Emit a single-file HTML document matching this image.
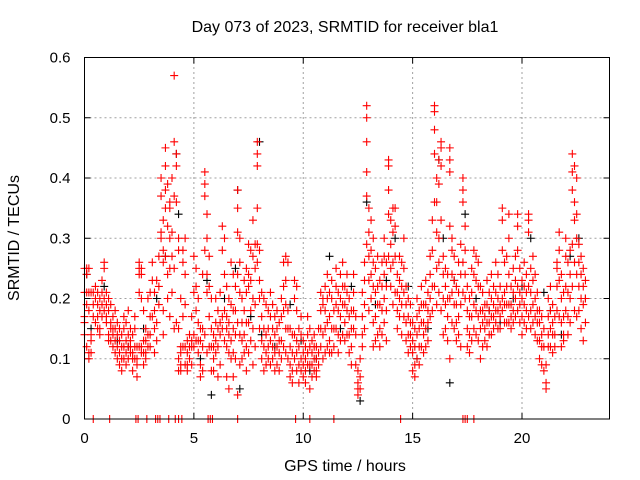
<!DOCTYPE html>
<html><head><meta charset="utf-8"><style>
html,body{margin:0;padding:0;background:#fff}
svg{display:block;font-family:"Liberation Sans",sans-serif}
</style></head><body>
<svg id="chart" width="640" height="480" viewBox="0 0 640 480">
<rect x="0" y="0" width="640" height="480" fill="#fff"/>
<text x="345" y="32" font-size="16" text-anchor="middle" fill="#000">Day 073 of 2023, SRMTID for receiver bla1</text>
<text x="345" y="471" font-size="16" text-anchor="middle" fill="#000">GPS time / hours</text>
<text transform="translate(19,238) rotate(-90)" font-size="16" text-anchor="middle" fill="#000">SRMTID / TECUs</text>
<g id="grid"></g>
<g id="ticks"></g>
<g id="black"></g>
<g id="red"></g>
<rect x="84.5" y="57.5" width="525" height="361.5" fill="none" stroke="#000" stroke-width="1"/>
</svg>
<script>
const xTicks=[0,5,10,15,20];
const yTicks=[0,0.1,0.2,0.3,0.4,0.5,0.6];
const yTickLabels=["0","0.1","0.2","0.3","0.4","0.5","0.6"];
const redT=[0.0,0.1,0.2,0.3,0.4,0.5,0.6,0.7,0.8,0.9,1.0,1.1,1.2,1.3,1.4,1.5,1.6,1.7,1.8,1.9,2.0,2.1,2.2,2.3,2.4,2.5,2.6,2.7,2.8,2.9,3.0,3.1,3.2,3.3,3.4,3.5,3.6,3.7,3.8,3.9,4.0,4.1,4.2,4.3,4.4,4.5,4.6,4.7,4.8,4.9,5.0,5.1,5.2,5.3,5.4,5.5,5.6,5.7,5.8,5.9,6.0,6.1,6.2,6.3,6.4,6.5,6.6,6.7,6.8,6.9,7.0,7.1,7.2,7.3,7.4,7.5,7.6,7.7,7.8,7.9,8.0,8.1,8.2,8.3,8.4,8.5,8.6,8.7,8.8,8.9,9.0,9.1,9.2,9.3,9.4,9.5,9.6,9.7,9.8,9.9,10.0,10.1,10.2,10.3,10.4,10.5,10.6,10.7,10.8,10.9,11.0,11.1,11.2,11.3,11.4,11.5,11.6,11.7,11.8,11.9,12.0,12.1,12.2,12.3,12.4,12.5,12.6,12.7,12.8,12.9,13.0,13.1,13.2,13.3,13.4,13.5,13.6,13.7,13.8,13.9,14.0,14.1,14.2,14.3,14.4,14.5,14.6,14.7,14.8,14.9,15.0,15.1,15.2,15.3,15.4,15.5,15.6,15.7,15.8,15.9,16.0,16.1,16.2,16.3,16.4,16.5,16.6,16.7,16.8,16.9,17.0,17.1,17.2,17.3,17.4,17.5,17.6,17.7,17.8,17.9,18.0,18.1,18.2,18.3,18.4,18.5,18.6,18.7,18.8,18.9,19.0,19.1,19.2,19.3,19.4,19.5,19.6,19.7,19.8,19.9,20.0,20.1,20.2,20.3,20.4,20.5,20.6,20.7,20.8,20.9,21.0,21.1,21.2,21.3,21.4,21.5,21.6,21.7,21.8,21.9,22.0,22.1,22.2,22.3,22.4,22.5,22.6,22.7,22.8,22.9];
const redV=[[17,21,25,16,14],[24,25,21,19,12],[25,21,18,10,11],[13,14,11,21],[19,21,17],[22,20,16],[21,19,17,15],[20,18,15,14],[23,21,19,17],[25,26,20,18],[21,19,17,16],[20,18,14,13],[19,16,13,15],[17,14,12,15],[18,15,13,11],[14,12,10,16],[15,13,9,11],[12,10,8,14],[17,15,12,10],[16,13,11,9],[14,12,10,18],[15,13,11,12],[14,11,8,10],[17,15,12,10],[12,10,7,9],[25,26,24,21,12],[25,24,20,12,11],[18,13,11,9],[15,13,11,10],[20,14,12],[21,17,14,12],[26,23,17],[21,18,15,11],[23,16,13],[27,22,19],[31,37,40,30],[28,33,26,18,14],[45,42,38,35,27],[39,32,24,20],[35,36,30,25,17],[40,31,27,21],[57,46,37,25,15],[44,42,36,16],[28,30,15,8,10],[20,12,9,11,8],[28,26,17,12],[30,24,19,12,9],[13,11,9,8],[14,12,10],[17,13,12,9],[27,21,14,12],[25,22,18,13],[20,16,13,11],[15,13,9,7],[24,15,12,8],[41,39,37,28,14],[34,30,24,21,11],[27,22,17,12],[20,15,12,8],[14,12,10,8],[20,16,13,11],[18,15,12,7],[21,16,14,9],[32,28,17,15],[30,24,18,13],[22,17,15,12,7],[20,16,14,11,5],[26,19,13,10],[24,18,15,11,7],[22,18,14,10],[38,35,31,24,16,4],[30,26,21,14,9],[20,16,13,10],[23,18,14,11],[25,21,16,12,8],[29,24,22,16,11],[28,23,18,13],[33,27,20,15,9],[29,25,19,12],[46,44,42,35,29,26],[28,23,20,15],[21,17,13,10],[20,15,12,8],[19,14,11,9],[18,15,12,10],[21,17,13,9],[19,15,12,10],[17,14,11,8],[18,15,12,9],[16,13,11,8],[20,17,13,10],[26,22,18,12],[27,23,19,15,11],[26,18,15,10],[15,12,9,7],[14,11,8,6],[23,20,14,10],[22,18,13,11,8],[15,12,9,6],[17,14,10,8],[13,11,9,7],[12,10,8,6],[17,14,11,9],[15,12,9,5],[13,11,9,7],[14,12,10,8],[12,10,8,7],[15,11,9],[21,18,15,12],[20,19,14,10],[22,18,15,11],[24,20,16,12],[21,17,13,11],[23,20,15,11],[18,15,12],[25,22,19,15],[21,18,14,11],[24,20,17,13],[26,22,19,14],[22,19,16,13],[24,21,18,14],[20,17,14,11],[18,15,12,9],[24,21,18,15],[17,14,9],[8,6,5,4],[10,7,5],[21,17,14,12],[26,23,19,15],[52,50,46,41,37,29],[35,31,27,23,18],[33,28,24,20],[30,26,22,16,12],[25,21,17,13],[27,22,19,14],[23,19,15,12],[26,22,18,14],[30,27,24,20,16],[26,22,18,13],[43,42,38,34,27],[33,29,25,22],[35,31,26,19],[35,32,27,21],[24,21,18,15],[27,23,20,17],[26,22,19,14],[30,25,21,17],[22,19,16,13],[20,17,14,11],[19,16,14,12],[16,13,11,8],[15,12,9,7],[20,17,14,10],[18,15,12,9],[22,19,16,12],[19,16,14,11],[23,19,15,12],[21,18,16,13],[27,24,20,17],[33,28,22,18],[52,51,48,44,36,22],[40,36,31,25,19],[43,39,30,26,21],[45,46,42,33,18],[27,24,20,14],[25,22,19,15],[24,20,17,13],[45,43,41,32,20,10],[30,28,24,21,16],[27,23,19,15],[22,19,16,13],[26,21,17,14],[29,24,19,12],[40,38,36,26,21],[32,28,24,20],[22,18,15,12],[20,17,14,11],[25,21,17,13],[28,24,19,15],[27,23,18,14],[26,22,17,13],[22,18,15,10],[21,18,16,12],[19,17,15,13],[23,19,16,12],[21,18,16,14],[24,20,17,14],[22,19,17,15],[26,21,18,16],[24,20,18,15],[22,19,17,15],[35,33,28,20,18],[26,21,19,16],[27,22,19,16],[34,30,24,19,16],[22,19,17,15],[25,21,18,16],[27,23,20,17],[34,32,28,22,18],[25,21,19,16],[23,20,17,14],[26,22,19,16],[24,21,18,15],[34,33,31,22,17],[25,21,18,15],[27,23,19,16],[24,20,17,14],[21,18,16,13],[18,16,13,10],[17,14,12,9],[15,12,8],[9,6,5],[20,17,14,12],[22,18,15,12],[19,16,14,11],[17,14,12],[26,25,22,18],[31,28,23,17],[24,20,16,12],[21,17,14,13],[30,27,22,18],[26,21,17,14],[28,24,20,16],[44,41,38,29,22],[42,36,33,26,18],[40,34,30,24,17],[29,26,22,18],[27,24,20,15],[25,22,19,13],[23,20,16]];
const blackT=[0.1,0.3,0.9,1.5,2.0,2.7,3.3,3.7,4.2,4.3,5.3,5.6,5.8,6.4,6.9,7.0,7.1,7.6,8.0,8.1,8.7,9.4,9.9,10.3,10.6,11.2,11.7,12.2,12.6,12.9,13.3,13.8,14.2,14.8,15.2,15.7,16.2,16.4,16.7,16.9,17.4,17.9,18.5,19.0,19.6,20.0,20.4,21.0,21.3,21.8,22.2,22.6,22.9];
const blackV=[0.24,0.15,0.22,0.13,0.12,0.15,0.20,0.27,0.44,0.34,0.10,0.23,0.04,0.20,0.25,0.38,0.05,0.17,0.46,0.14,0.12,0.19,0.13,0.08,0.10,0.27,0.15,0.22,0.03,0.36,0.19,0.23,0.30,0.22,0.10,0.15,0.43,0.30,0.06,0.23,0.34,0.20,0.18,0.16,0.20,0.22,0.30,0.21,0.18,0.14,0.27,0.30,0.20];
const zeroT=[0.4,1.15,2.35,2.45,2.85,3.25,3.35,3.45,3.85,4.15,4.3,4.45,5.65,5.75,5.85,7.0,9.65,10.3,11.4,14.45,17.3,17.4,17.5,17.8];

const NS='http://www.w3.org/2000/svg';
const X0=84.5,X1=609.5,Y0=419,Y1=57.5;
function sx(t){return X0+(t/24)*(X1-X0);}
function sy(v){return Y0-(v/0.6)*(Y0-Y1);}
function mk(tag,attrs,parent){const e=document.createElementNS(NS,tag);for(const k in attrs)e.setAttribute(k,attrs[k]);parent.appendChild(e);return e;}
const grid=document.getElementById('grid'),ticks=document.getElementById('ticks');
xTicks.forEach((t,i)=>{
  const x=sx(t);
  if(t>0&&t<24){const g=mk('line',{x1:x,x2:x,y1:Y0,y2:Y1,stroke:'#a0a0a0','stroke-dasharray':'2,3','stroke-width':1},grid);
  
  }
  mk('line',{x1:x,x2:x,y1:Y0,y2:Y0-6,stroke:'#000'},ticks);
  mk('line',{x1:x,x2:x,y1:Y1,y2:Y1+6,stroke:'#000'},ticks);
  const tx=mk('text',{x:x,y:Y0+24,'font-size':15,'text-anchor':'middle',fill:'#000'},ticks);
  tx.textContent=String(t);
  
  
});
yTicks.forEach((v,i)=>{
  const y=sy(v);
  if(v>0&&v<0.6){const g=mk('line',{x1:X0,x2:X1,y1:y,y2:y,stroke:'#a0a0a0','stroke-dasharray':'2,3','stroke-width':1},grid);
  
  }
  mk('line',{x1:X0,x2:X0+6,y1:y,y2:y,stroke:'#000'},ticks);
  mk('line',{x1:X1,x2:X1-6,y1:y,y2:y,stroke:'#000'},ticks);
  const tx=mk('text',{x:X0-14,y:y+5,'font-size':15,'text-anchor':'end',fill:'#000'},ticks);
  tx.textContent=yTickLabels[i];
  
  
});
function plus(g,t,v,col){
  const x=sx(t),y=sy(v);
  const p=mk('path',{d:`M${x-4},${y}h8M${x},${y-4}v8`,stroke:col,'stroke-width':1.1,fill:'none'},g);
  
  
}
const gb=document.getElementById('black'),gr=document.getElementById('red');
blackT.forEach((t,i)=>plus(gb,t,blackV[i],'#000'));
redT.forEach((t,i)=>redV[i].forEach(v=>plus(gr,t,v/100,'#f00')));
zeroT.forEach(t=>plus(gr,t,0,'#f00'));
</script>
</body></html>
